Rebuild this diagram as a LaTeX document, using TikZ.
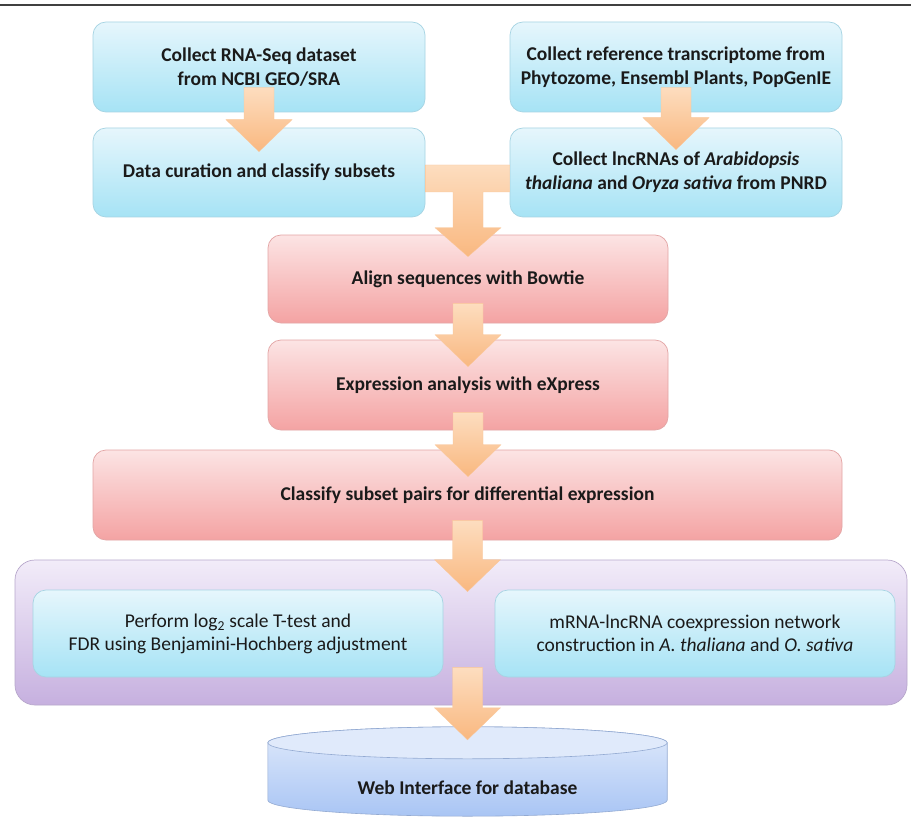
\documentclass[tikz,border=0pt]{standalone}
\usepackage{fontspec}
\setmainfont{Carlito}
\usetikzlibrary{calc}
\definecolor{cyanTop}{HTML}{E6F6FC}
\definecolor{cyanBot}{HTML}{A6E3F5}
\definecolor{cyanLine}{HTML}{A6D4E3}
\definecolor{pinkTop}{HTML}{FCE4E4}
\definecolor{pinkBot}{HTML}{F4A3A3}
\definecolor{pinkLine}{HTML}{E3A5A5}
\definecolor{purpTop}{HTML}{F2ECF9}
\definecolor{purpBot}{HTML}{C6B0DF}
\definecolor{purpLine}{HTML}{B8A8CC}
\definecolor{arrTop}{HTML}{FDDDBF}
\definecolor{arrBot}{HTML}{F9B880}
\definecolor{cylTop}{HTML}{E0EAFB}
\definecolor{cylBot}{HTML}{A9C5F4}
\definecolor{cylLine}{HTML}{93AAD2}
\definecolor{txt}{HTML}{1A1A1A}
\tikzset{
  box/.style={rounded corners=13pt, line width=0.7pt, align=center, text=txt,
    font=\fontsize{19.5}{24}\selectfont\bfseries},
  cyanbox/.style={box, top color=cyanTop, bottom color=cyanBot, draw=cyanLine},
  pinkbox/.style={box, top color=pinkTop, bottom color=pinkBot, draw=pinkLine},
  purpbox/.style={box, rounded corners=20pt, top color=purpTop, bottom color=purpBot, draw=purpLine},
  innerbox/.style={cyanbox, font=\fontsize{19.5}{23}\selectfont},
  arrowfill/.style={top color=arrTop, bottom color=arrBot, draw=arrBot!80!white, line width=0.3pt},
}
\newcommand\blkarrow[2]{%
  \path let \p1=#1, \p2=#2 in [arrowfill]
    (\x1-15pt,\y1) -- (\x1+15pt,\y1) -- (\x1+15pt,\y2+32pt) -- (\x1+33pt,\y2+32pt)
    -- (\x1,\y2) -- (\x1-33pt,\y2+32pt) -- (\x1-15pt,\y2+32pt) -- cycle;}
\begin{document}
\begin{tikzpicture}[x=1pt,y=-1pt]
\useasboundingbox (0,0) rectangle (911,824);
\fill[white] (0,0) rectangle (911,824);
\draw[line width=2pt, color=black!75] (0,5) -- (911,5);

\node[cyanbox, minimum width=332pt, minimum height=90pt] (b1) at (259,67)
  {Collect RNA-Seq dataset\\from NCBI GEO/SRA};
\node[cyanbox, minimum width=332pt, minimum height=89pt] (b2) at (259,172.5)
  {Data curation and classify subsets};
\node[cyanbox, minimum width=332pt, minimum height=90pt] (b3) at (676,67)
  {Collect reference transcriptome from\\Phytozome, Ensembl Plants, PopGenIE};
\node[cyanbox, minimum width=332pt, minimum height=89pt] (b4) at (676,172.5)
  {Collect lncRNAs of \textit{Arabidopsis}\\\textit{thaliana} and \textit{Oryza sativa} from PNRD};

\node[pinkbox, minimum width=400pt, minimum height=88pt] (p1) at (468,279)
  {Align sequences with Bowtie};
\node[pinkbox, minimum width=400pt, minimum height=90pt] (p2) at (468,385)
  {Expression analysis with eXpress};
\node[pinkbox, minimum width=749pt, minimum height=90pt] (p3) at (467.5,495)
  {Classify subset pairs for differential expression};

\node[purpbox, minimum width=892pt, minimum height=145pt] (pu) at (461,632.5) {};
\node[innerbox, minimum width=410pt, minimum height=87pt] (c1) at (238,633.5)
  {Perform log\textsubscript{2} scale T-test and\\FDR using Benjamini-Hochberg adjustment};
\node[innerbox, minimum width=400pt, minimum height=87pt] (c2) at (695,633.5)
  {mRNA-lncRNA coexpression network\\construction in \textit{A. thaliana} and \textit{O. sativa}};

% database cylinder
\node[minimum width=399pt, minimum height=89pt, inner sep=0pt] (db) at (467.5,771.5) {};
\path let \p1=(db.north west), \p2=(db.south east), \n1={(\x2-\x1)/2} in
  [top color=cylTop, bottom color=cylBot, draw=cylLine, line width=0.6pt]
  (\x1,\y1-16pt) -- (\x1,\y2+16pt) arc[start angle=180, end angle=360, x radius=\n1, y radius=16pt]
  -- (\x2,\y1-16pt) arc[start angle=0, end angle=180, x radius=\n1, y radius=16pt] -- cycle;
\path let \p1=(db.north west), \p2=(db.south east), \n1={(\x2-\x1)/2} in
  [fill=cylTop, draw=cylLine, line width=0.6pt]
  (\x1+\n1,\y1-16pt) ellipse[x radius=\n1, y radius=16pt];
\node[font=\fontsize{19.5}{24}\selectfont\bfseries, text=txt] (dbt) at ($(db.center)+(0,16)$)
  {Web Interface for database};

% block arrows
\blkarrow{($(b1.south)+(0,-25)$)}{($(b2.north)+(0,24)$)}
\blkarrow{($(b3.south)+(0,-25)$)}{($(b4.north)+(0,22)$)}
\path let \p1=(b2.east), \p2=(b4.west), \p3=(p1.north) in [arrowfill]
  (\x1,\y1+7.5pt) -- (\x2,\y1+7.5pt) -- (\x2,\y1-19.5pt) -- (\x3+15pt,\y1-19.5pt)
  -- (\x3+15pt,\y3+7pt) -- (\x3+33pt,\y3+7pt) -- (\x3,\y3-22pt) -- (\x3-33pt,\y3+7pt)
  -- (\x3-15pt,\y3+7pt) -- (\x3-15pt,\y1-19.5pt) -- (\x1,\y1-19.5pt) -- cycle;
\blkarrow{($(p1.south)+(0,-20)$)}{($(p2.north)+(0,27)$)}
\blkarrow{($(p2.south)+(0,-18)$)}{($(p3.north)+(0,27)$)}
\blkarrow{($(p3.south)+(0,-20)$)}{($(pu.north -| p3.north)+(0,32)$)}
\blkarrow{($(pu.south -| db.north)+(0,-38)$)}{($(db.north)+(0,13)$)}
\end{tikzpicture}
\end{document}
